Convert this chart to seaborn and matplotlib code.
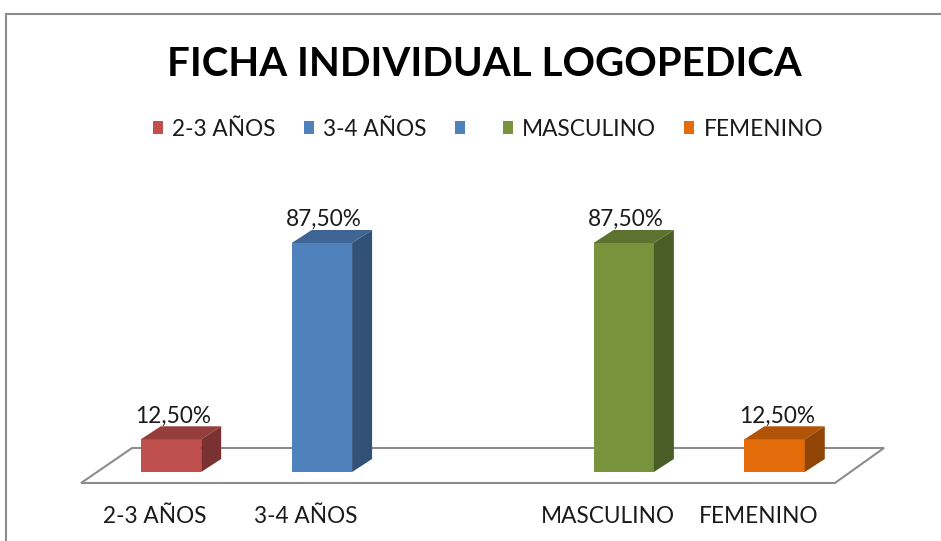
import numpy as np
import pandas as pd
import matplotlib.pyplot as plt
import seaborn as sns
from matplotlib.patches import Polygon, Rectangle
from matplotlib.transforms import ScaledTranslation
import matplotlib.colors as mcolors

# datos del grafico
categorias = ["2-3 AÑOS", "3-4 AÑOS", " ", "MASCULINO", "FEMENINO"]
porcentajes = [12.5, 87.5, np.nan, 87.5, 12.5]
colores = ["#C0504D", "#4F81BD", "#4F81BD", "#77933C", "#E46C0A"]
leyenda = ["2-3 AÑOS", "3-4 AÑOS", "", "MASCULINO", "FEMENINO"]

W, H = 941, 541

def fx(px):
    return px / W

def fy(py):
    return 1 - py / H

def oscurecer(c, f):
    r, g, b = mcolors.to_rgb(c)
    return (r * f, g * f, b * f)

sns.set_theme(style="white")
plt.rcParams['font.family'] = ['Lato', 'DejaVu Sans']

fig = plt.figure(figsize=(9.41, 5.41), dpi=100)
ax = fig.add_axes([fx(60), fy(500), fx(900) - fx(60), fy(150) - fy(500)])
ax.patch.set_visible(False)

df = pd.DataFrame({"cat": categorias, "val": porcentajes})
sns.barplot(data=df, x="cat", y="val", hue="cat", order=categorias, hue_order=categorias,
            palette=colores, width=0.4, saturation=1, errorbar=None, legend=False,
            ax=ax, zorder=3)
barras = list(ax.patches)

ax.set_xlim(-0.7356, 4.831)
ax.set_ylim(-10.70, 123.04)

# profundidad 3D (en unidades de datos)
dx, dy = 0.1325, 4.97

# suelo
ax.add_patch(Polygon([(-0.596, -4.2), (4.40, -4.2), (4.725, 9.17), (-0.258, 9.17)],
                     facecolor='white', edgecolor='#8C8C8C', lw=1.5, zorder=1, clip_on=False))

for p in barras:
    h = p.get_height()
    if not np.isfinite(h) or h == 0:
        continue
    x0, w = p.get_x(), p.get_width()
    c = p.get_facecolor()
    p.set_edgecolor('none')
    arriba = Polygon([(x0, h), (x0 + w, h), (x0 + w + dx, h + dy), (x0 + dx, h + dy)],
                     facecolor=oscurecer(c, 0.78), edgecolor='none', zorder=3)
    lado = Polygon([(x0 + w, 0), (x0 + w + dx, dy), (x0 + w + dx, h + dy), (x0 + w, h)],
                   facecolor=oscurecer(c, 0.63), edgecolor='none', zorder=3)
    ax.add_patch(arriba)
    ax.add_patch(lado)
    etiqueta = f"{h:.2f}".replace('.', ',') + '%'
    ax.text(x0 + w / 2 + 0.015, h + dy + 1.5, etiqueta, ha='center', va='baseline',
            fontsize=16.3, color='#1a1a1a')

ax.set_xlabel('')
ax.set_ylabel('')
ax.set_yticks([])
sns.despine(ax=ax, left=True, bottom=True)
ax.tick_params(axis='x', length=0, pad=16.5, labelsize=16.3, labelcolor='#1a1a1a')
desplazar = ScaledTranslation(-16 / 100, 0, fig.dpi_scale_trans)
for lab in ax.get_xticklabels():
    lab.set_va('baseline')
    lab.set_transform(lab.get_transform() + desplazar)

handles = [Rectangle((0, 0), 1, 1, facecolor=c, edgecolor='none') for c in colores]
fig.legend(handles, leyenda, loc='center', bbox_to_anchor=(fx(488), fy(129)), ncol=5,
           frameon=False, fontsize=16.3, handlelength=0.45, handleheight=0.45,
           handletextpad=0.4, columnspacing=1.25, labelcolor='#1a1a1a')

fig.text(fx(484), fy(76), "FICHA INDIVIDUAL LOGOPEDICA", ha='center', va='baseline',
         fontsize=29, fontweight='bold', color='black')

# marco del grafico
fig.add_artist(Rectangle((fx(6), -0.1), 1.2, fy(14) + 0.1, transform=fig.transFigure,
                         fill=False, edgecolor='#8C8C8C', lw=1.5))

fig.savefig('out.png', dpi=100)
